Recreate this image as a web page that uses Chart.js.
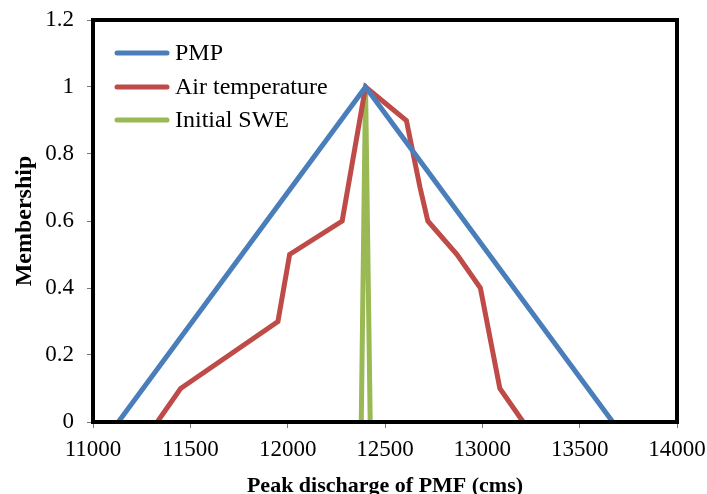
<!DOCTYPE html>
<html>
<head>
<meta charset="utf-8">
<script src="https://cdn.jsdelivr.net/npm/chart.js@4"></script>
<style>
  html, body { margin: 0; padding: 0; background: #fff; }
  #wrap { width: 707px; height: 494px; }
</style>
</head>
<body>
<div id="wrap"><canvas id="chart"></canvas></div>
<script>
// Peak discharge (cms) vs membership for each fuzzy input
const pmpX = [11130, 12400, 13670];
const pmpY = [0, 1, 0];

const airX = [11330, 11450, 11950, 12010, 12280, 12400, 12610, 12680, 12720, 12870, 12990, 13090, 13210];
const airY = [0, 0.1, 0.3, 0.5, 0.6, 1, 0.9, 0.7, 0.6, 0.5, 0.4, 0.1, 0];

const sweX = [12378, 12400, 12424];
const sweY = [0, 1, 0];

const xTicks = [11000, 11500, 12000, 12500, 13000, 13500, 14000];
const yTicks = [0, 0.2, 0.4, 0.6, 0.8, 1, 1.2];

const seriesNames = ['PMP', 'Air temperature', 'Initial SWE'];
const seriesColors = ['#4a7ebb', '#be4b48', '#98b954'];

const FONT = 'Liberation Serif, "Times New Roman", serif';

const pts = (xs, ys) => xs.map((x, i) => ({ x, y: ys[i] }));

// ── Box round the plot area ──────────────────────────────────────────────
const frame = {
    id: 'frame',
    afterDraw(chart) {
        const { ctx, chartArea: a } = chart;
        ctx.save();
        ctx.strokeStyle = '#000';
        ctx.lineWidth = 4;
        ctx.strokeRect(a.left, a.top, a.right - a.left, a.bottom - a.top);
        ctx.restore();
    },
};

// ── Legend inside the plot, top-left ─────────────────────────────────────
const innerLegend = {
    id: 'innerLegend',
    afterDraw(chart) {
        const { ctx, chartArea: a } = chart;
        ctx.save();
        ctx.font = `24px ${FONT}`;
        ctx.textBaseline = 'middle';
        ctx.lineCap = 'round';
        const rows = [53, 87, 120];
        seriesNames.forEach((name, i) => {
            ctx.strokeStyle = seriesColors[i];
            ctx.lineWidth = 5;
            ctx.beginPath();
            ctx.moveTo(a.left + 24, rows[i]);
            ctx.lineTo(a.left + 74, rows[i]);
            ctx.stroke();
            ctx.fillStyle = '#000';
            ctx.fillText(name, a.left + 82, rows[i] + 1);
        });
        ctx.restore();
    },
};

const lineSet = (label, xs, ys, color) => ({
    label,
    data: pts(xs, ys),
    borderColor: color,
    backgroundColor: color,
    borderWidth: 5,
    showLine: true,
    pointRadius: 0,
    tension: 0,
    borderJoinStyle: 'miter',
});

new Chart(document.getElementById('chart'), {
    type: 'scatter',
    data: {
        datasets: [
            lineSet(seriesNames[0], pmpX, pmpY, seriesColors[0]),
            lineSet(seriesNames[1], airX, airY, seriesColors[1]),
            lineSet(seriesNames[2], sweX, sweY, seriesColors[2]),
        ],
    },
    options: {
        responsive: true,
        maintainAspectRatio: false,
        animation: false,
        layout: { padding: { top: 20, right: 30, left: 0, bottom: 0 } },
        plugins: {
            legend: { display: false },
            tooltip: { enabled: false },
        },
        scales: {
            x: {
                type: 'linear',
                min: 11000,
                max: 14000,
                afterBuildTicks: (s) => { s.ticks = xTicks.map(v => ({ value: v })); },
                afterFit: (s) => {
                    s.height = 72;
                    s.paddingLeft = 0;
                    s.paddingRight = 0;
                },
                grid: { drawOnChartArea: false, tickLength: 6, color: '#777', lineWidth: 1 },
                border: { display: false },
                ticks: {
                    color: '#000',
                    font: { family: FONT, size: 23 },
                    padding: 8,
                    maxRotation: 0,
                    callback: (v) => String(v),
                },
                title: {
                    display: true,
                    text: 'Peak discharge of PMF (cms)',
                    color: '#000',
                    font: { family: FONT, size: 22, weight: 'bold' },
                    padding: { top: 0, bottom: -6 },
                },
            },
            y: {
                min: 0,
                max: 1.2,
                afterBuildTicks: (s) => { s.ticks = yTicks.map(v => ({ value: v })); },
                afterFit: (s) => {
                    s.width = 93;
                    s.paddingTop = 0;
                    s.paddingBottom = 0;
                },
                grid: { drawOnChartArea: false, tickLength: 6, color: '#777', lineWidth: 1 },
                border: { display: false },
                ticks: {
                    color: '#000',
                    font: { family: FONT, size: 23 },
                    padding: 13,
                    callback: (v) => String(Math.round(v * 10) / 10),
                },
                title: {
                    display: true,
                    text: 'Membership',
                    color: '#000',
                    font: { family: FONT, size: 24, weight: 'bold' },
                    padding: { top: 10, bottom: 0 },
                },
            },
        },
    },
    plugins: [frame, innerLegend],
});
</script>
</body>
</html>
